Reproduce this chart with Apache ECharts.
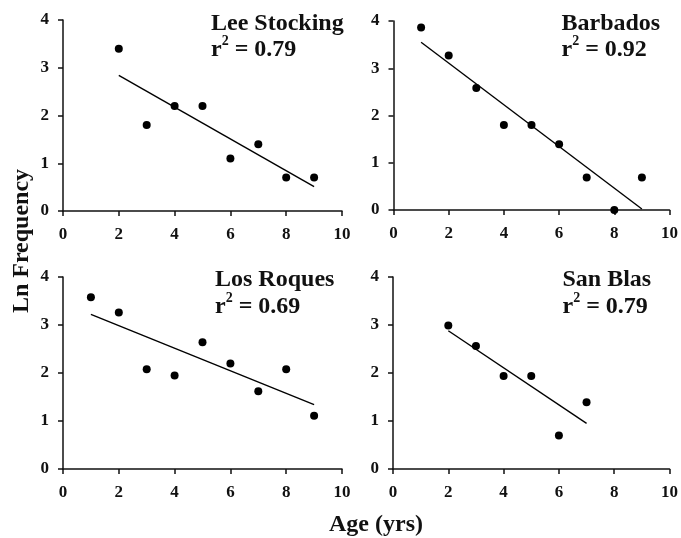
<!DOCTYPE html>
<html>
<head>
<meta charset="utf-8">
<script src="https://cdn.jsdelivr.net/npm/echarts@6/dist/echarts.min.js"></script>
<style>html,body{margin:0;padding:0;background:#fff}#c{width:681px;height:538px}</style>
</head>
<body>
<div id="c"></div>
<script>
// ---- data ----
const panelNames = ['Lee Stocking', 'Barbados', 'Los Roques', 'San Blas'];
const r2Labels = ['0.79', '0.92', '0.69', '0.79'];

const leeAge = [2, 3, 4, 5, 6, 7, 8, 9];
const leeLnFreq = [3.40, 1.80, 2.20, 2.20, 1.10, 1.40, 0.70, 0.70];
const leeFit = [[2, 2.84], [9, 0.51]];

const barbAge = [1, 2, 3, 4, 5, 6, 7, 8, 9];
const barbLnFreq = [3.86, 3.27, 2.58, 1.80, 1.80, 1.39, 0.69, 0.00, 0.69];
const barbFit = [[1, 3.55], [9, 0.02]];

const roqAge = [1, 2, 3, 4, 5, 6, 7, 8, 9];
const roqLnFreq = [3.58, 3.26, 2.08, 1.95, 2.64, 2.20, 1.62, 2.08, 1.11];
const roqFit = [[1, 3.22], [9, 1.34]];

const blasAge = [2, 3, 4, 5, 6, 7];
const blasLnFreq = [2.99, 2.56, 1.94, 1.94, 0.70, 1.39];
const blasFit = [[2, 2.88], [7, 0.95]];

const xTicks = [0, 2, 4, 6, 8, 10];
const yTicks = [0, 1, 2, 3, 4];
const xTitle = 'Age (yrs)';
const yTitle = 'Ln Frequency';

const panels = [
  { ages: leeAge, vals: leeLnFreq, fit: leeFit },
  { ages: barbAge, vals: barbLnFreq, fit: barbFit },
  { ages: roqAge, vals: roqLnFreq, fit: roqFit },
  { ages: blasAge, vals: blasLnFreq, fit: blasFit }
];

// ---- layout ----
const grids = [
  { left: 63, top: 20, width: 279, height: 191 },
  { left: 393.5, top: 21, width: 279.5, height: 189 },
  { left: 63, top: 277, width: 279, height: 192 },
  { left: 393, top: 277, width: 280, height: 192 }
];
const labelPos = [
  { x: 211, y1: 23.5, y2: 50 },
  { x: 561.5, y1: 23.5, y2: 50 },
  { x: 215, y1: 280, y2: 307 },
  { x: 562.5, y1: 280, y2: 307 }
];

const FONT = '"Liberation Serif", "Times New Roman", serif';
const INK = '#000';
const TXT = '#111';

const xAxes = [], yAxes = [], series = [], graphics = [];
panels.forEach((p, i) => {
  xAxes.push({
    gridIndex: i, type: 'value', min: xTicks[0], max: xTicks[xTicks.length - 1], interval: xTicks[1] - xTicks[0],
    axisLine: { show: true, onZero: false, lineStyle: { color: TXT, width: 1.5 } },
    axisTick: { show: true, length: 5, lineStyle: { color: TXT, width: 1.5 } },
    axisLabel: { color: TXT, fontFamily: 'Liberation Serif', fontWeight: 'bold', fontSize: 17, margin: 15 },
    splitLine: { show: false }
  });
  yAxes.push({
    gridIndex: i, type: 'value', min: yTicks[0], max: yTicks[yTicks.length - 1], interval: yTicks[1] - yTicks[0],
    axisLine: { show: true, onZero: false, lineStyle: { color: TXT, width: 1.5 } },
    axisTick: { show: true, length: 5, lineStyle: { color: TXT, width: 1.5 } },
    axisLabel: { color: TXT, fontFamily: 'Liberation Serif', fontWeight: 'bold', fontSize: 17, margin: 14 },
    splitLine: { show: false }
  });
  series.push({
    type: 'line', xAxisIndex: i, yAxisIndex: i, data: p.fit,
    symbol: 'none', lineStyle: { color: INK, width: 1.4 }, silent: true, animation: false, z: 2
  });
  series.push({
    type: 'scatter', xAxisIndex: i, yAxisIndex: i,
    data: p.ages.map((a, k) => [a, p.vals[k]]),
    symbol: 'circle', symbolSize: 8, itemStyle: { color: INK, opacity: 1 }, animation: false, z: 3
  });
  const lp = labelPos[i];
  graphics.push({
    type: 'text', x: lp.x, y: lp.y1,
    style: { text: panelNames[i], font: 'bold 24px ' + FONT, fill: TXT, textAlign: 'left', textVerticalAlign: 'middle', verticalAlign: 'middle' }
  });
  graphics.push({
    type: 'text', x: lp.x, y: lp.y2,
    style: {
      text: '{r|r}{s|2}{r| = ' + r2Labels[i] + '}',
      fill: TXT, textAlign: 'left', textVerticalAlign: 'middle', verticalAlign: 'middle',
      rich: {
        r: { font: 'bold 24px ' + FONT, fill: TXT, color: TXT },
        s: { font: 'bold 14px ' + FONT, fill: TXT, color: TXT, padding: [0, 0, 17, 0] }
      }
    }
  });
});

graphics.push({
  type: 'text', x: 22, y: 241, rotation: Math.PI / 2,
  style: { text: yTitle, font: 'bold 24px ' + FONT, fill: TXT, textAlign: 'center', textVerticalAlign: 'middle', verticalAlign: 'middle' }
});
graphics.push({
  type: 'text', x: 376, y: 525,
  style: { text: xTitle, font: 'bold 24px ' + FONT, fill: TXT, textAlign: 'center', textVerticalAlign: 'middle', verticalAlign: 'middle' }
});

const chart = echarts.init(document.getElementById('c'), null, { renderer: 'canvas' });
chart.setOption({
  backgroundColor: '#fff',
  animation: false,
  grid: grids,
  xAxis: xAxes,
  yAxis: yAxes,
  series: series,
  graphic: graphics
});
</script>
</body>
</html>
